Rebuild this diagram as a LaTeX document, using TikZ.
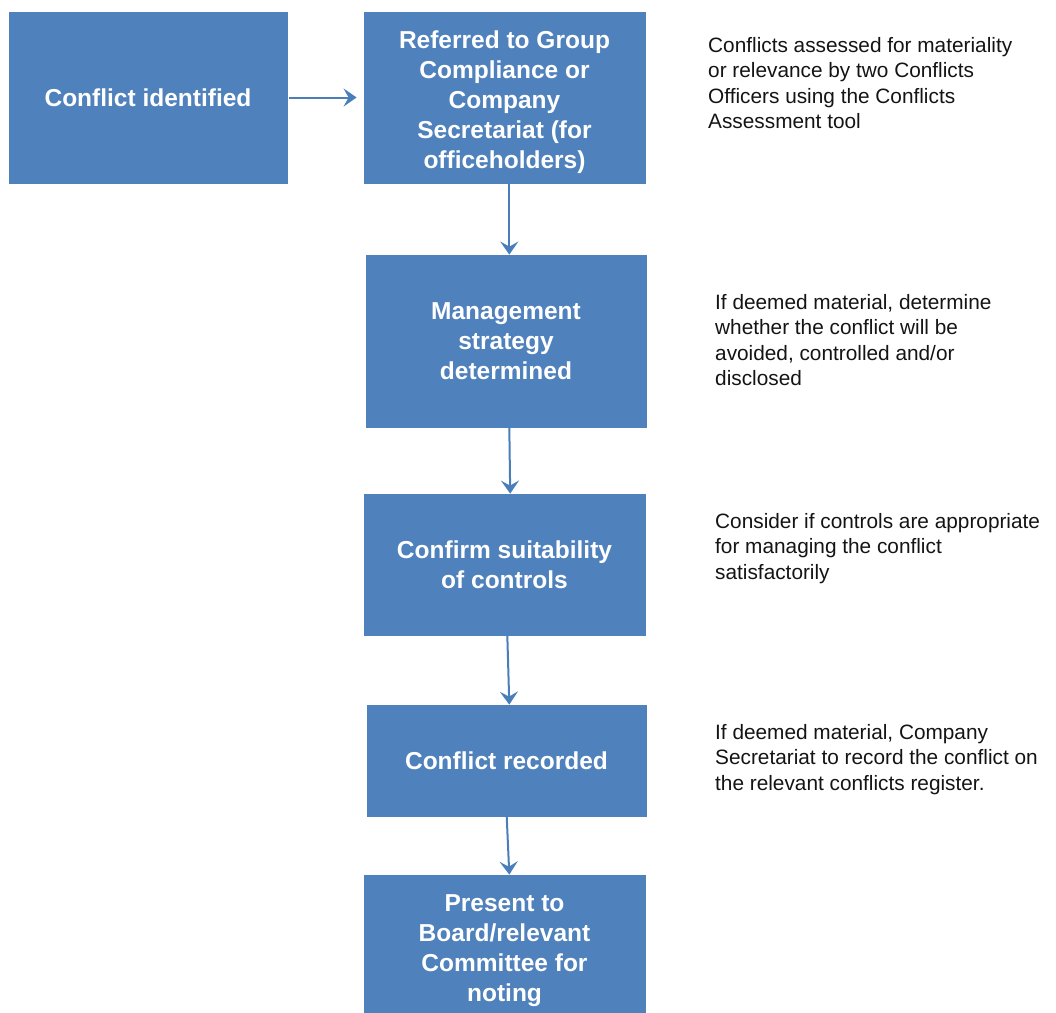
\documentclass[tikz,border=0pt]{standalone}
\usepackage{fontspec}
\setmainfont{Liberation Sans}
\usetikzlibrary{arrows.meta}
\definecolor{boxblue}{HTML}{4F81BD}
\definecolor{arrowblue}{HTML}{4A7EBB}
\definecolor{notegray}{HTML}{141414}
\begin{document}
\begin{tikzpicture}[x=1pt,y=-1pt,
  stepbox/.style={draw=boxblue, fill=boxblue, line width=0.8pt, inner sep=0pt,
    text=white, font=\bfseries\fontsize{24.5}{30}\selectfont, align=center},
  conn/.style={draw=arrowblue, line width=2pt,
    -{Stealth[length=13pt,width=18pt,inset=5pt]}},
  note/.style={anchor=base west, inner sep=0pt, text=notegray,
    font=\fontsize{20.8}{25.6}\selectfont}]
\useasboundingbox (0,0) rectangle (1056,1012);
\clip (0,0) rectangle (1056,1012);

\node[stepbox, minimum width=278pt, minimum height=171pt] (b1) at (148,97.5) {Conflict identified};
\node[stepbox, minimum width=281pt, minimum height=171pt] (b2) at (504.5,97.5)
  {\rule{0pt}{28pt}Referred to Group\\Compliance or\\Company\\Secretariat (for\\officeholders)};
\node[stepbox, minimum width=280pt, minimum height=172pt] (b3) at (506,341)
  {Management\\strategy\\determined};
\node[stepbox, minimum width=281pt, minimum height=141pt] (b4) at (504.5,564.5)
  {Confirm suitability\\of controls};
\node[stepbox, minimum width=279pt, minimum height=111pt] (b5) at (506.5,760.5)
  {Conflict recorded};
\node[stepbox, minimum width=281pt, minimum height=144pt] (b6) at (504.5,947)
  {\rule{0pt}{25pt}Present to\\Board/relevant\\Committee for\\noting};

\node[note] (n1) at (708,52) {\parbox[t]{345pt}{\raggedright Conflicts assessed for materiality\\or relevance by two Conflicts\\Officers using the Conflicts\\Assessment tool}};
\node[note] (n2) at (715,309) {\parbox[t]{340pt}{\raggedright If deemed material, determine\\whether the conflict will be\\avoided, controlled and/or\\disclosed}};
\node[note] (n3) at (715,528) {\parbox[t]{340pt}{\raggedright Consider if controls are appropriate\\for managing the conflict\\satisfactorily}};
\node[note] (n4) at (715,739) {\parbox[t]{340pt}{\raggedright If deemed material, Company\\Secretariat to record the conflict on\\the relevant conflicts register.}};

\draw[conn, shorten <=2pt, shorten >=7pt] (b1.east) -- (b2.west);
\draw[conn] ([xshift=4.8pt]b2.south) -- ([xshift=3.3pt]b3.north);
\draw[conn] ([xshift=3.3pt]b3.south) -- ([xshift=5.7pt]b4.north);
\draw[conn] ([xshift=2.8pt]b4.south) -- ([xshift=2.8pt]b5.north);
\draw[conn] ([xshift=0.2pt]b5.south) -- ([xshift=4.8pt]b6.north);
\end{tikzpicture}
\end{document}
